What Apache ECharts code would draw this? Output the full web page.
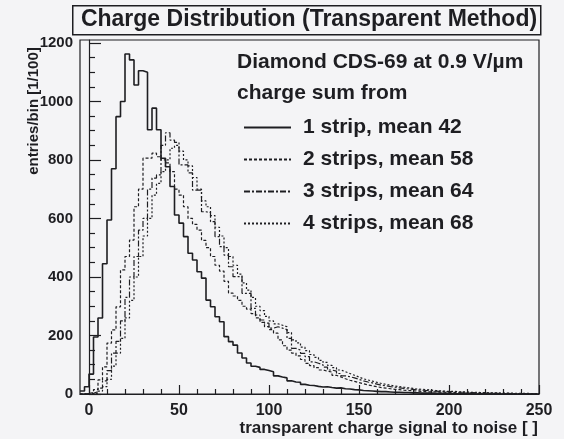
<!DOCTYPE html>
<html>
<head>
<meta charset="utf-8">
<script src="https://cdn.jsdelivr.net/npm/echarts@6/dist/echarts.min.js"></script>
<style>
  html, body { margin: 0; padding: 0; background: #f4f4f6; }
  #chart { width: 564px; height: 439px; }
</style>
</head>
<body>
<div id="chart"></div>
<script>
// histogram binning (bins of 2.5 starting at -5)
const binStart = -5;
const binWidth = 2.5;

// entries per bin
const strip1 = [
  10, 25, 68, 195, 260, 445, 595, 770, 948, 1000,
  1162, 1142, 1056, 1105, 1100, 903, 977, 903, 806, 777,
  709, 612, 584, 538, 481, 458, 418, 396, 321, 298,
  264, 247, 196, 179, 167, 140, 123, 106, 95, 91,
  84, 80, 76, 62, 58, 55, 45, 41, 40, 33,
  30, 29, 26, 24, 25, 22, 20, 21, 18, 17,
  15, 14, 12, 11, 10, 9, 8, 8, 7, 6,
  6, 5, 5, 4, 4, 3, 3, 3, 2, 2,
  2, 2, 1, 1, 1, 1, 1, 0, 1, 0,
  0, 0, 0, 0, 0, 0, 0, 0, 0, 0, 0, 0
];
const strip2 = [
  0, 2, 5, 15, 48, 93, 174, 219, 298, 424,
  470, 526, 640, 700, 806, 806, 823, 811, 800, 790,
  760, 700, 680, 640, 600, 580, 560, 525, 500, 470,
  440, 420, 385, 345, 335, 320, 300, 290, 275, 260,
  245, 230, 220, 208, 185, 165, 150, 140, 130, 118,
  105, 97, 90, 82, 78, 75, 64, 58, 52, 47,
  43, 39, 35, 31, 28, 25, 22, 20, 18, 16,
  15, 13, 12, 11, 10, 9, 8, 7, 7, 6,
  6, 5, 5, 4, 4, 3, 3, 3, 2, 2,
  2, 2, 1, 1, 1, 1, 1, 0, 1, 0, 0, 0
];
const strip3 = [
  0, 1, 2, 8, 20, 45, 80, 140, 180, 250,
  330, 400, 470, 560, 600, 700, 738, 749, 850, 893,
  868, 860, 783, 783, 756, 697, 697, 623, 620, 589,
  538, 504, 475, 435, 401, 401, 344, 344, 293, 270,
  253, 242, 225, 230, 225, 220, 190, 156, 150, 139,
  128, 110, 105, 100, 92, 82, 78, 70, 62, 59,
  55, 50, 45, 41, 38, 34, 30, 28, 25, 23,
  21, 19, 17, 16, 14, 13, 12, 11, 10, 9,
  9, 8, 7, 6, 6, 5, 5, 4, 4, 3,
  3, 3, 2, 2, 2, 1, 1, 1, 1, 1, 0, 0
];
const strip4 = [
  0, 0, 0, 3, 10, 25, 50, 95, 140, 190,
  260, 320, 400, 470, 540, 600, 680, 720, 760, 800,
  840, 850, 830, 800, 780, 740, 700, 660, 640, 610,
  570, 540, 500, 470, 440, 410, 380, 355, 330, 300,
  285, 265, 250, 240, 235, 230, 210, 185, 175, 160,
  148, 135, 125, 115, 108, 98, 90, 82, 76, 70,
  64, 58, 52, 48, 44, 40, 36, 33, 30, 27,
  25, 23, 21, 19, 17, 16, 15, 13, 12, 11,
  10, 9, 9, 8, 7, 7, 6, 6, 5, 5,
  4, 4, 4, 3, 3, 3, 2, 2, 2, 2, 1, 1
];

const seriesNames = ['1 strip, mean 42', '2 strips, mean 58', '3 strips, mean 64', '4 strips, mean 68'];
const xLabels = [0, 50, 100, 150, 200, 250];
const xMinorTicks = [10, 20, 30, 40, 60, 70, 80, 90, 110, 120, 130, 140, 160, 170, 180, 190, 210, 220, 230, 240];
const yLabels = [0, 200, 400, 600, 800, 1000, 1200];
const yMinorTicks = [50, 100, 150, 250, 300, 350, 450, 500, 550, 650, 700, 750, 850, 900, 950, 1050, 1100, 1150];

const FONT = '"Liberation Sans", Arial, sans-serif';
const INK = '#1e1e22';

function toSteps(counts) {
  const pts = counts.map((c, i) => [binStart + i * binWidth, c]);
  pts.push([binStart + counts.length * binWidth, counts[counts.length - 1]]);
  return pts;
}

const chart = echarts.init(document.getElementById('chart'), null, { renderer: 'canvas' });

const lineStyles = [
  { width: 1.6, type: 'solid' },
  { width: 1.2, type: [3, 2] },
  { width: 1.2, type: [6, 2, 2, 2] },
  { width: 1.2, type: [2, 2] }
];

chart.setOption({
  backgroundColor: '#f4f4f6',
  animation: false,
  grid: { left: 80, right: 25, top: 40, bottom: 45, show: true, borderColor: INK, borderWidth: 1.2, backgroundColor: 'transparent' },
  legend: {
    orient: 'vertical',
    left: 238,
    top: 112,
    itemWidth: 47,
    itemHeight: 20,
    itemGap: 11,
    data: seriesNames,
    itemStyle: { opacity: 0 },
    textStyle: { fontFamily: FONT, fontWeight: 'bold', fontSize: 21, color: INK, lineHeight: 20, padding: [0, 0, 0, 7] }
  },
  xAxis: [
    {
      type: 'value', min: -5, max: 250,
      axisLine: { show: true, lineStyle: { color: INK, width: 1.2 } },
      axisTick: { show: true, inside: true, length: 9, customValues: xLabels, lineStyle: { color: INK, width: 1.2 } },
      axisLabel: { customValues: xLabels, margin: 9, fontFamily: FONT, fontWeight: 'bold', fontSize: 16, color: INK },
      splitLine: { show: false }
    },
    {
      type: 'value', min: -5, max: 250, position: 'bottom',
      axisLine: { show: false },
      axisTick: { show: true, inside: true, length: 5, customValues: xMinorTicks, lineStyle: { color: INK, width: 1.2 } },
      axisLabel: { show: false },
      splitLine: { show: false }
    }
  ],
  yAxis: [
    {
      type: 'value', min: 0, max: 1210,
      axisLine: { show: true, lineStyle: { color: INK, width: 1.2 } },
      axisTick: { show: true, inside: true, length: 12, customValues: yLabels, lineStyle: { color: INK, width: 1.2 } },
      axisLabel: {
        customValues: yLabels, margin: 7, fontFamily: FONT, fontWeight: 'bold', fontSize: 15, color: INK,
        formatter: v => String(v)
      },
      splitLine: { show: false }
    },
    {
      type: 'value', min: 0, max: 1210, position: 'left',
      axisLine: { show: false },
      axisTick: { show: true, inside: true, length: 6, customValues: yMinorTicks, lineStyle: { color: INK, width: 1.2 } },
      axisLabel: { show: false },
      splitLine: { show: false }
    }
  ],
  series: [strip1, strip2, strip3, strip4].map((counts, k) => ({
    name: seriesNames[k],
    type: 'line',
    step: 'end',
    symbol: 'none',
    xAxisIndex: 0,
    yAxisIndex: 0,
    data: toSteps(counts),
    lineStyle: Object.assign({ color: INK }, lineStyles[k]),
    itemStyle: { color: INK }
  })),
  graphic: [
    {
      type: 'rect', left: 72, top: 5,
      shape: { width: 468, height: 29 },
      style: { fill: 'transparent', stroke: INK, lineWidth: 1.5 }
    },
    {
      type: 'text', x: 309, y: 20,
      style: { text: 'Charge Distribution (Transparent Method)', font: 'bold 23px ' + FONT, fill: INK, textAlign: 'center', textVerticalAlign: 'middle' }
    },
    {
      type: 'text', x: 237, y: 62,
      style: { text: 'Diamond CDS-69 at 0.9 V/\u00b5m', font: 'bold 21px ' + FONT, fill: INK, textAlign: 'left', textVerticalAlign: 'middle' }
    },
    {
      type: 'text', x: 237, y: 93,
      style: { text: 'charge sum from', font: 'bold 21px ' + FONT, fill: INK, textAlign: 'left', textVerticalAlign: 'middle' }
    },
    {
      type: 'text', x: 538, y: 428,
      style: { text: 'transparent charge signal to noise [ ]', font: 'bold 17px ' + FONT, fill: INK, textAlign: 'right', textVerticalAlign: 'middle' }
    },
    {
      type: 'text', x: 34, y: 111, rotation: Math.PI / 2,
      style: { text: 'entries/bin [1/100]', font: 'bold 15px ' + FONT, fill: INK, textAlign: 'center', textVerticalAlign: 'middle' }
    }
  ]
});
</script>
</body>
</html>
